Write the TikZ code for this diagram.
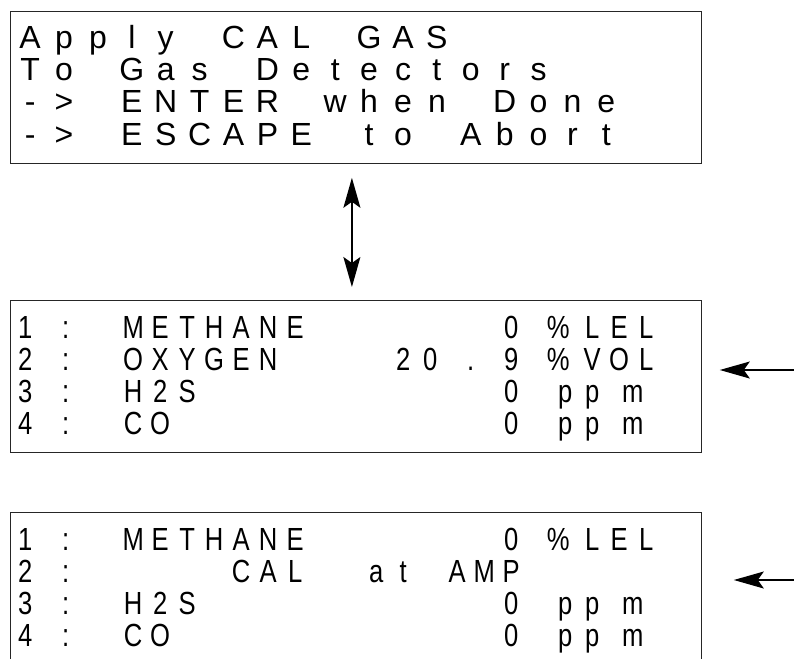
\documentclass[tikz,border=0pt]{standalone}
\usepackage{fontspec}
\setmainfont{Liberation Sans}
\newfontfamily\narrowfont{Liberation Sans}[FakeStretch=0.8]
\usetikzlibrary{arrows.meta}

\makeatletter
% one character per display cell
\newcommand\lcdtext[2]{\@tfor\lcd@ch:=#2\do{\makebox[#1][c]{\lcd@ch}}}
\makeatother
% move a character off the middle of its cell
\newcommand\halfleft[1]{\kern-13.5pt#1\kern13.5pt}
\newcommand\halfright[1]{\kern13.5pt#1\kern-13.5pt}
\newcommand\nudgeleft[1]{\kern-7pt#1\kern7pt}

\begin{document}
\begin{tikzpicture}[x=1pt,y=-1pt,
    screen/.style={draw=black!85,line width=0.8pt,anchor=north west,
      minimum width=691pt,minimum height=152pt,inner sep=0pt},
    lcdrow/.style={anchor=base west,inner sep=0pt,font=\fontsize{32}{32}\selectfont},
    gasrow/.style={lcdrow,font=\fontsize{32}{32}\narrowfont},
    head/.tip={Stealth[length=30pt,width=17pt,inset=6pt]},
    updown/.style={head-head,line width=1.6pt},
    sidearrow/.style={-head,line width=1.6pt}]
        \path[use as bounding box,clip] (0,0) rectangle (794,658);
        \node[screen] (calgas) at (10,11) {};
        \node[screen] (readings) at (10,300) {};
        \node[screen] (calamp) at (10,512) {};
        % first screen
        \node[lcdrow] (calgas1) at (13,49) {\lcdtext{33.9pt}{A p p l y ~ C A L ~ G A S}};
        \node[lcdrow] (calgas2) at (13,81) {\lcdtext{33.9pt}{T o ~ G a s ~ D e t e c t o r s}};
        \node[lcdrow] (calgas3) at (13,113) {\lcdtext{33.9pt}{- > ~ E N T E R ~ w h e n ~ D o n e}};
        \node[lcdrow] (calgas4) at (13,145) {\lcdtext{33.9pt}{- > ~ E S C A P E ~ t o ~ A b o r t}};
        % second screen
        \node[gasrow] (readings1) at (11.5,338) {\lcdtext{27pt}{1 ~ {\halfleft:} ~ M E T H A N E ~ ~ ~ ~ ~ ~ ~ 0 ~ {\nudgeleft\%} L E L}};
        \node[gasrow] (readings2) at (11.5,370) {\lcdtext{27pt}{2 ~ {\halfleft:} ~ O X Y G E N ~ ~ ~ ~ 2 0 ~ {\halfleft.} 9 ~ {\nudgeleft\%} V O L}};
        \node[gasrow] (readings3) at (11.5,402) {\lcdtext{27pt}{3 ~ {\halfleft:} ~ H 2 S ~ ~ ~ ~ ~ ~ ~ ~ ~ ~ ~ 0 ~ p p {\halfright m}}};
        \node[gasrow] (readings4) at (11.5,434) {\lcdtext{27pt}{4 ~ {\halfleft:} ~ C O ~ ~ ~ ~ ~ ~ ~ ~ ~ ~ ~ ~ 0 ~ p p {\halfright m}}};
        % third screen
        \node[gasrow] (calamp1) at (11.5,550) {\lcdtext{27pt}{1 ~ {\halfleft:} ~ M E T H A N E ~ ~ ~ ~ ~ ~ ~ 0 ~ {\nudgeleft\%} L E L}};
        \node[gasrow] (calamp2) at (11.5,582) {\lcdtext{27pt}{2 ~ {\halfleft:} ~ ~ ~ ~ ~ C A L ~ ~ a t ~ A M P}};
        \node[gasrow] (calamp3) at (11.5,614) {\lcdtext{27pt}{3 ~ {\halfleft:} ~ H 2 S ~ ~ ~ ~ ~ ~ ~ ~ ~ ~ ~ 0 ~ p p {\halfright m}}};
        \node[gasrow] (calamp4) at (11.5,646) {\lcdtext{27pt}{4 ~ {\halfleft:} ~ C O ~ ~ ~ ~ ~ ~ ~ ~ ~ ~ ~ ~ 0 ~ p p {\halfright m}}};
        % arrows
        \draw[updown,shorten <=14pt,shorten >=13pt] ([xshift=-4pt]calgas.south) -- ([xshift=-4pt]readings.north);
        \coordinate (oxyin) at (794,370);
        \coordinate (ampin) at (794,580);
        \draw[sidearrow,shorten >=18pt] (oxyin) -- (oxyin -| readings.east);
        \draw[sidearrow,shorten >=32pt] (ampin) -- (ampin -| calamp.east);
\end{tikzpicture}
\end{document}
